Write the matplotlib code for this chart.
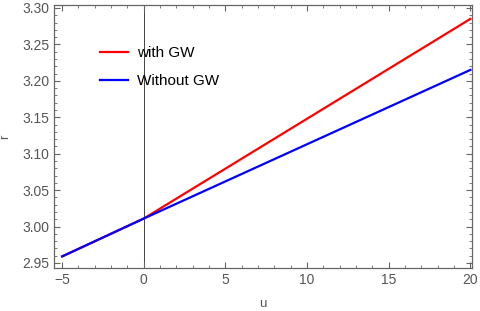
import matplotlib
matplotlib.use("agg")
import matplotlib.pyplot as plt
from matplotlib.ticker import MultipleLocator

plt.rcParams['font.family'] = ['Liberation Sans', 'DejaVu Sans']

# data
u = [-5, 0, 20]
r_with_gw = [2.959, 3.011, 3.285]
r_without_gw = [2.959, 3.011, 3.215]

fig = plt.figure(figsize=(4.8, 3.11), dpi=100)
ax = fig.add_axes([54/480, 1 - 268/311, (472-54)/480, (268-5)/311])

frame = '#666666'
ax.axvline(0, color='#444444', lw=0.7, zorder=1)
ax.plot(u, r_with_gw, color='#ff0000', lw=1.6, label='with GW', zorder=2)
ax.plot(u, r_without_gw, color='#0000ff', lw=1.6, label='Without GW', zorder=3)

ax.set_xlim(-5.5, 20.1)
ax.set_ylim(2.9431, 3.3041)
ax.xaxis.set_major_locator(MultipleLocator(5))
ax.xaxis.set_minor_locator(MultipleLocator(1))
ax.yaxis.set_major_locator(MultipleLocator(0.05))
ax.yaxis.set_minor_locator(MultipleLocator(0.01))
ax.yaxis.set_major_formatter(matplotlib.ticker.FormatStrFormatter('%.2f'))

for s in ax.spines.values():
    s.set_color(frame)
    s.set_linewidth(0.9)
ax.tick_params(which='both', direction='in', top=True, right=True, colors=frame, labelcolor='#555555', labelsize=10)
ax.tick_params(which='major', length=4.5, width=0.8)
ax.tick_params(which='minor', length=2.5, width=0.6)

ax.set_xlabel('u', color='#555555', fontsize=9.5, labelpad=8)
ax.set_ylabel('r', color='#555555', fontsize=9.5, labelpad=8)

ax.legend(loc='upper left', bbox_to_anchor=(0.078, 0.895), frameon=False, fontsize=11,
          handlelength=1.8, handletextpad=0.6, labelspacing=0.9)

fig.savefig("out.png", dpi=100)
